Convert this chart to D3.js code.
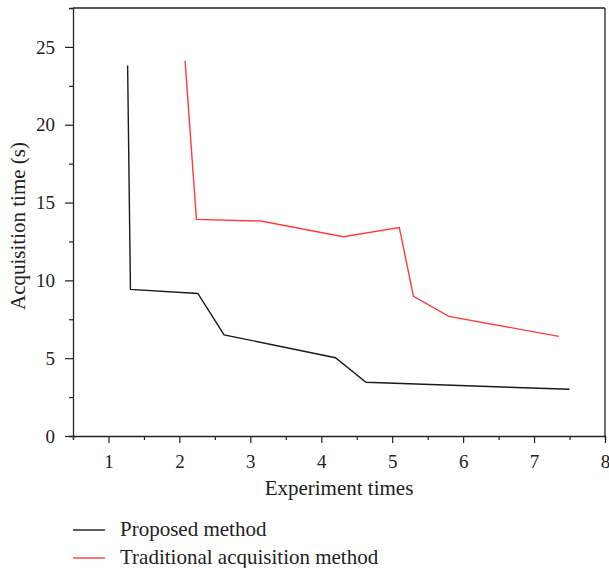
<!DOCTYPE html>
<html>
<head>
<meta charset="utf-8">
<script src="https://cdn.jsdelivr.net/npm/d3@7"></script>
<style>
  html, body { margin: 0; padding: 0; background: #fff; }
  svg { display: block; }
</style>
</head>
<body>
<script>
// ---- data ----
const proposedX = [1.27, 1.31, 2.26, 2.63, 4.20, 4.63, 7.50];
const proposedY = [23.8, 9.42, 9.16, 6.5, 5.03, 3.45, 3.0];
const traditionalX = [2.08, 2.24, 3.15, 4.31, 5.10, 5.30, 5.80, 7.35];
const traditionalY = [24.1, 13.92, 13.81, 12.8, 13.40, 8.97, 7.69, 6.40];
const xTicks = [1, 2, 3, 4, 5, 6, 7, 8];
const yTicks = [0, 5, 10, 15, 20, 25];
const seriesNames = ["Proposed method", "Traditional acquisition method"];
const seriesColors = ["#1a1a1a", "#ff3b3b"];

const W = 609, H = 568;
const mLeft = 73, mRight = 605, mTop = 8, mBottom = 436;
const FONT = "'Liberation Serif', 'DejaVu Serif', serif";

const svg = d3.select("body").append("svg").attr("width", W).attr("height", H);

const x = d3.scaleLinear().domain([0.5, 8]).range([mLeft, mRight]);
const y = d3.scaleLinear().domain([0, 27.5]).range([mBottom, mTop]);

const axisColor = "#222";

// frame (top & right)
svg.append("line").attr("x1", mLeft).attr("x2", mRight).attr("y1", mTop).attr("y2", mTop)
  .attr("stroke", axisColor).attr("stroke-width", 1.3);
svg.append("line").attr("x1", mRight).attr("x2", mRight).attr("y1", mTop).attr("y2", mBottom)
  .attr("stroke", axisColor).attr("stroke-width", 1.3);

// minor ticks
const xMinor = d3.range(0.5, 8.01, 0.5).filter(v => !xTicks.includes(v));
const yMinor = d3.range(2.5, 27.5, 5);

const gx = svg.append("g").attr("transform", `translate(0,${mBottom})`);
gx.call(d3.axisBottom(x).tickValues(xMinor).tickSize(4).tickFormat(""));
gx.selectAll(".tick line").attr("stroke", axisColor).attr("stroke-width", 1.2);
gx.select(".domain").attr("stroke", axisColor).attr("stroke-width", 1.3);
const gx2 = svg.append("g").attr("transform", `translate(0,${mBottom})`);
gx2.call(d3.axisBottom(x).tickValues(xTicks).tickSize(7).tickPadding(12).tickFormat(d3.format("d")));
gx2.select(".domain").remove();
gx2.selectAll(".tick line").attr("stroke", axisColor).attr("stroke-width", 1.2);
gx2.selectAll(".tick text").style("font-size", "19px").style("font-family", FONT).attr("fill", "#222");

const gy = svg.append("g").attr("transform", `translate(${mLeft},0)`);
gy.call(d3.axisLeft(y).tickValues(yMinor).tickSize(4).tickFormat(""));
gy.selectAll(".tick line").attr("stroke", axisColor).attr("stroke-width", 1.2);
gy.select(".domain").attr("stroke", axisColor).attr("stroke-width", 1.3);
const gy2 = svg.append("g").attr("transform", `translate(${mLeft},0)`);
gy2.call(d3.axisLeft(y).tickValues(yTicks).tickSize(8).tickPadding(10).tickFormat(d3.format("d")));
gy2.select(".domain").remove();
gy2.selectAll(".tick line").attr("stroke", axisColor).attr("stroke-width", 1.2);
gy2.selectAll(".tick text").style("font-size", "19px").style("font-family", FONT).attr("fill", "#222");

// axis titles
svg.append("text").attr("x", (mLeft + mRight) / 2).attr("y", 495)
  .attr("text-anchor", "middle").style("font-size", "21px").style("font-family", FONT)
  .attr("fill", "#222").text("Experiment times");
svg.append("text").attr("transform", `translate(25,226) rotate(-90)`)
  .attr("text-anchor", "middle").style("font-size", "21px").style("font-family", FONT)
  .attr("fill", "#222").text("Acquisition time (s)");

// lines
const line = d3.line().x(d => x(d[0])).y(d => y(d[1]));
const series = [
  d3.zip(proposedX, proposedY),
  d3.zip(traditionalX, traditionalY)
];
series.forEach((s, i) => {
  svg.append("path").datum(s).attr("d", line)
    .attr("fill", "none").attr("stroke", seriesColors[i]).attr("stroke-width", 1.4)
    .attr("stroke-linejoin", "miter");
});

// legend
const legY = [530, 558];
seriesNames.forEach((n, i) => {
  svg.append("line").attr("x1", 73).attr("x2", 105).attr("y1", legY[i]).attr("y2", legY[i])
    .attr("stroke", seriesColors[i]).attr("stroke-width", 1.4);
  svg.append("text").attr("x", 120).attr("y", legY[i] + 6)
    .style("font-size", "21px").style("font-family", FONT).attr("fill", "#222").text(n);
});
</script>
</body>
</html>
